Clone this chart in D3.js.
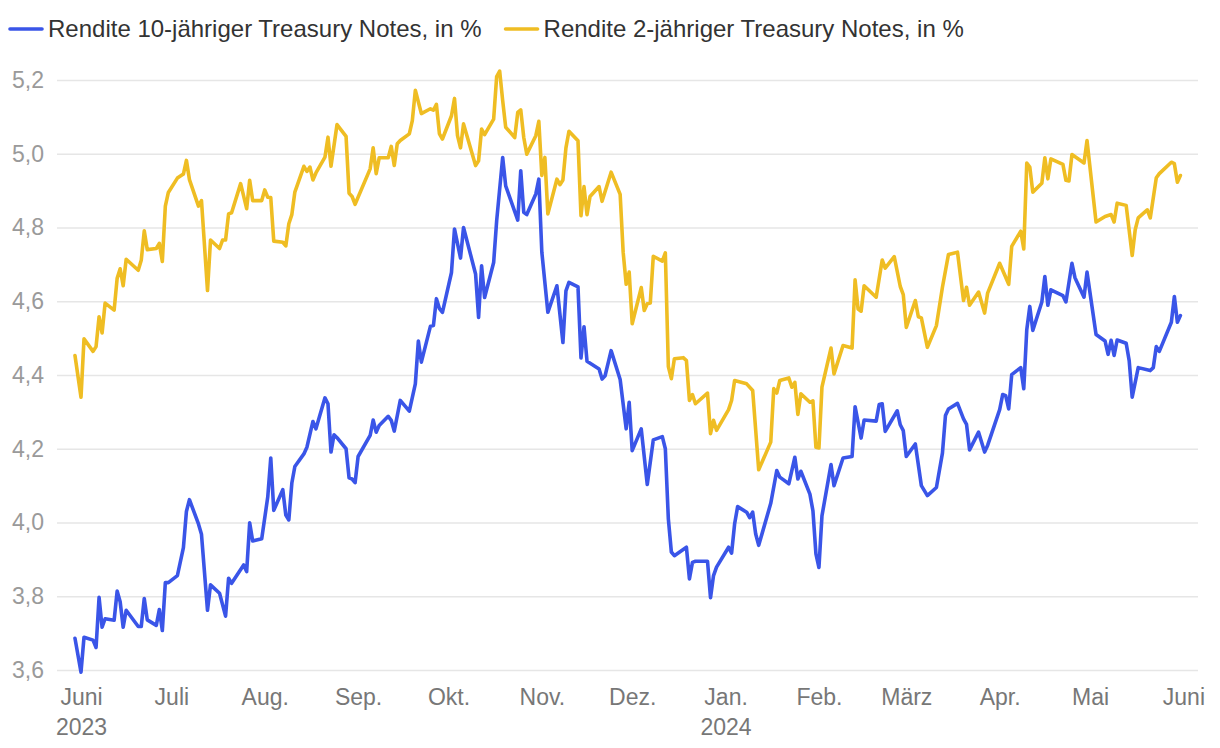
<!DOCTYPE html>
<html>
<head>
<meta charset="utf-8">
<script src="https://cdn.jsdelivr.net/npm/d3@7"></script>
<style>
  html, body { margin: 0; padding: 0; background: #fff; }
  svg { display: block; font-family: "Liberation Sans", Arial, Helvetica, sans-serif; }
</style>
</head>
<body>
<svg id="chart" width="1220" height="748"></svg>
<script>
// ---------- DATA ----------
const seriesNames = ["Rendite 10-jähriger Treasury Notes, in %", "Rendite 2-jähriger Treasury Notes, in %"];
const seriesColors = ["#3a55e8", "#efbd23"];

const dates10 = [
"2023-05-30","2023-06-01","2023-06-02","2023-06-05","2023-06-06","2023-06-07","2023-06-08","2023-06-09",
"2023-06-12","2023-06-13","2023-06-14","2023-06-15","2023-06-16","2023-06-20","2023-06-21","2023-06-22",
"2023-06-23","2023-06-26","2023-06-27","2023-06-28","2023-06-29","2023-06-30","2023-07-03","2023-07-05",
"2023-07-06","2023-07-07","2023-07-10","2023-07-11","2023-07-13","2023-07-14","2023-07-17","2023-07-19",
"2023-07-20","2023-07-21","2023-07-25","2023-07-26","2023-07-27","2023-07-28","2023-07-31","2023-08-02",
"2023-08-03","2023-08-04","2023-08-07","2023-08-08","2023-08-09","2023-08-10","2023-08-11","2023-08-14",
"2023-08-15","2023-08-17","2023-08-18","2023-08-21","2023-08-22","2023-08-23","2023-08-24","2023-08-25",
"2023-08-28","2023-08-29","2023-08-30","2023-08-31","2023-09-01","2023-09-05","2023-09-06","2023-09-07",
"2023-09-08","2023-09-11","2023-09-12","2023-09-13","2023-09-15","2023-09-18","2023-09-20","2023-09-21",
"2023-09-22","2023-09-25","2023-09-26","2023-09-27","2023-09-28","2023-09-29","2023-10-02","2023-10-03",
"2023-10-05","2023-10-06","2023-10-10","2023-10-11","2023-10-12","2023-10-13","2023-10-16","2023-10-17",
"2023-10-19","2023-10-20","2023-10-24","2023-10-25","2023-10-26","2023-10-27","2023-10-30","2023-10-31",
"2023-11-01","2023-11-03","2023-11-06","2023-11-08","2023-11-09","2023-11-10","2023-11-13","2023-11-14",
"2023-11-15","2023-11-16","2023-11-20","2023-11-21","2023-11-22","2023-11-24","2023-11-27","2023-11-29",
"2023-11-30","2023-12-01","2023-12-04","2023-12-06","2023-12-08","2023-12-11","2023-12-12","2023-12-13",
"2023-12-14","2023-12-15","2023-12-19","2023-12-20","2023-12-21","2023-12-22","2023-12-26","2023-12-27",
"2023-12-28","2023-12-29","2024-01-02","2024-01-03","2024-01-04","2024-01-05","2024-01-08","2024-01-09",
"2024-01-10","2024-01-11","2024-01-12","2024-01-16","2024-01-18","2024-01-19","2024-01-22","2024-01-24",
"2024-01-25","2024-01-26","2024-01-29","2024-01-30","2024-01-31","2024-02-01","2024-02-02","2024-02-05",
"2024-02-06","2024-02-09","2024-02-12","2024-02-13","2024-02-15","2024-02-16","2024-02-20","2024-02-21",
"2024-02-22","2024-02-23","2024-02-27","2024-02-28","2024-02-29","2024-03-01","2024-03-04","2024-03-06",
"2024-03-08","2024-03-11","2024-03-13","2024-03-14","2024-03-15","2024-03-18","2024-03-20","2024-03-21",
"2024-03-22","2024-03-25","2024-03-27","2024-03-28","2024-04-01","2024-04-02","2024-04-03","2024-04-04",
"2024-04-05","2024-04-08","2024-04-09","2024-04-10","2024-04-11","2024-04-12","2024-04-15","2024-04-16",
"2024-04-17","2024-04-18","2024-04-22","2024-04-23","2024-04-25","2024-04-26","2024-04-29","2024-04-30",
"2024-05-03","2024-05-06","2024-05-07","2024-05-08","2024-05-09","2024-05-10","2024-05-13","2024-05-14",
"2024-05-15","2024-05-17","2024-05-21","2024-05-22","2024-05-23","2024-05-24","2024-05-28","2024-05-29",
"2024-05-30","2024-05-31"];
const values10 = [
3.686,3.594,3.689,3.681,3.661,3.797,3.716,3.739,
3.735,3.814,3.785,3.716,3.762,3.718,3.718,3.794,
3.736,3.721,3.764,3.707,3.837,3.837,3.856,3.932,
4.030,4.062,3.996,3.968,3.762,3.831,3.808,3.746,
3.849,3.835,3.885,3.867,3.999,3.950,3.956,4.069,
4.175,4.033,4.089,4.020,4.007,4.107,4.152,4.186,
4.204,4.274,4.254,4.338,4.322,4.191,4.238,4.230,
4.200,4.121,4.118,4.108,4.179,4.236,4.278,4.245,
4.263,4.288,4.277,4.248,4.331,4.302,4.376,4.492,
4.435,4.532,4.534,4.607,4.580,4.570,4.678,4.796,
4.717,4.800,4.674,4.556,4.696,4.610,4.705,4.818,
4.990,4.913,4.820,4.954,4.841,4.835,4.891,4.931,
4.733,4.570,4.642,4.488,4.628,4.651,4.639,4.446,
4.531,4.437,4.416,4.389,4.398,4.466,4.388,4.254,
4.326,4.195,4.254,4.103,4.224,4.233,4.200,4.010,
3.920,3.910,3.933,3.847,3.892,3.895,3.895,3.796,
3.856,3.879,3.933,3.917,3.996,4.043,4.028,4.013,
4.028,3.969,3.938,4.052,4.141,4.123,4.105,4.177,
4.118,4.139,4.077,4.032,3.915,3.878,4.018,4.157,
4.100,4.175,4.179,4.314,4.229,4.278,4.275,4.320,
4.322,4.247,4.303,4.265,4.249,4.179,4.213,4.100,
4.073,4.095,4.188,4.290,4.308,4.323,4.281,4.266,
4.197,4.245,4.191,4.209,4.306,4.347,4.344,4.308,
4.401,4.420,4.363,4.523,4.586,4.521,4.598,4.667,
4.589,4.631,4.615,4.598,4.703,4.664,4.611,4.679,
4.510,4.492,4.456,4.494,4.453,4.495,4.486,4.439,
4.340,4.420,4.412,4.420,4.477,4.464,4.543,4.613,
4.543,4.561];

const dates2 = [
"2023-05-30","2023-06-01","2023-06-02","2023-06-05","2023-06-06","2023-06-07","2023-06-08","2023-06-09",
"2023-06-12","2023-06-13","2023-06-14","2023-06-15","2023-06-16","2023-06-20","2023-06-21","2023-06-22",
"2023-06-23","2023-06-26","2023-06-27","2023-06-28","2023-06-29","2023-06-30","2023-07-03","2023-07-05",
"2023-07-06","2023-07-07","2023-07-10","2023-07-11","2023-07-13","2023-07-14","2023-07-17","2023-07-18",
"2023-07-19","2023-07-20","2023-07-21","2023-07-24","2023-07-26","2023-07-27","2023-07-28","2023-07-31",
"2023-08-01","2023-08-02","2023-08-03","2023-08-04","2023-08-07","2023-08-08","2023-08-09","2023-08-10",
"2023-08-11","2023-08-14","2023-08-15","2023-08-16","2023-08-17","2023-08-18","2023-08-21","2023-08-22",
"2023-08-23","2023-08-25","2023-08-28","2023-08-29","2023-08-30","2023-08-31","2023-09-05","2023-09-06",
"2023-09-07","2023-09-08","2023-09-11","2023-09-12","2023-09-13","2023-09-14","2023-09-15","2023-09-18",
"2023-09-19","2023-09-20","2023-09-22","2023-09-25","2023-09-26","2023-09-27","2023-09-28","2023-09-29",
"2023-10-02","2023-10-03","2023-10-04","2023-10-05","2023-10-06","2023-10-10","2023-10-11","2023-10-12",
"2023-10-13","2023-10-16","2023-10-17","2023-10-18","2023-10-19","2023-10-20","2023-10-23","2023-10-24",
"2023-10-25","2023-10-26","2023-10-27","2023-10-30","2023-10-31","2023-11-01","2023-11-02","2023-11-03",
"2023-11-06","2023-11-07","2023-11-08","2023-11-09","2023-11-10","2023-11-13","2023-11-14","2023-11-15",
"2023-11-16","2023-11-17","2023-11-20","2023-11-21","2023-11-24","2023-11-27","2023-11-28","2023-11-29",
"2023-11-30","2023-12-01","2023-12-04","2023-12-05","2023-12-06","2023-12-07","2023-12-08","2023-12-11",
"2023-12-12","2023-12-13","2023-12-14","2023-12-15","2023-12-18","2023-12-19","2023-12-20","2023-12-21",
"2023-12-22","2023-12-26","2023-12-27","2023-12-28","2023-12-29","2024-01-02","2024-01-03","2024-01-04",
"2024-01-08","2024-01-10","2024-01-12","2024-01-16","2024-01-17","2024-01-18","2024-01-19","2024-01-22",
"2024-01-23","2024-01-24","2024-01-25","2024-01-26","2024-01-29","2024-01-30","2024-01-31","2024-02-01",
"2024-02-02","2024-02-05","2024-02-06","2024-02-09","2024-02-12","2024-02-13","2024-02-14","2024-02-15",
"2024-02-16","2024-02-20","2024-02-22","2024-02-23","2024-02-26","2024-02-28","2024-02-29","2024-03-01",
"2024-03-04","2024-03-05","2024-03-06","2024-03-08","2024-03-11","2024-03-13","2024-03-15","2024-03-18",
"2024-03-20","2024-03-21","2024-03-22","2024-03-25","2024-03-27","2024-03-28","2024-04-01","2024-04-04",
"2024-04-05","2024-04-08","2024-04-09","2024-04-10","2024-04-11","2024-04-12","2024-04-15","2024-04-16",
"2024-04-17","2024-04-18","2024-04-22","2024-04-23","2024-04-24","2024-04-25","2024-04-29","2024-04-30",
"2024-05-03","2024-05-06","2024-05-08","2024-05-09","2024-05-10","2024-05-13","2024-05-15","2024-05-16",
"2024-05-17","2024-05-20","2024-05-21","2024-05-23","2024-05-24","2024-05-28","2024-05-29","2024-05-30",
"2024-05-31"];
const values2 = [
4.453,4.340,4.498,4.464,4.477,4.558,4.514,4.595,
4.576,4.662,4.688,4.642,4.714,4.684,4.711,4.791,
4.740,4.743,4.757,4.708,4.858,4.895,4.934,4.945,
4.982,4.930,4.858,4.873,4.629,4.766,4.743,4.766,
4.766,4.837,4.840,4.919,4.851,4.928,4.873,4.873,
4.902,4.882,4.881,4.763,4.760,4.750,4.810,4.835,
4.896,4.966,4.952,4.964,4.929,4.948,4.991,5.045,
4.966,5.079,5.047,4.893,4.884,4.863,4.959,5.016,
4.946,4.989,4.989,5.020,4.968,5.027,5.036,5.054,
5.090,5.172,5.109,5.122,5.118,5.134,5.054,5.040,
5.103,5.150,5.049,5.016,5.081,4.968,4.981,5.067,
5.052,5.094,5.209,5.224,5.144,5.072,5.044,5.112,
5.119,5.044,4.999,5.049,5.088,4.941,4.990,4.837,
4.931,4.916,4.929,5.016,5.061,5.035,4.832,4.911,
4.835,4.884,4.911,4.871,4.950,4.890,4.733,4.646,
4.679,4.539,4.637,4.575,4.593,4.595,4.722,4.709,
4.731,4.423,4.390,4.444,4.447,4.439,4.331,4.347,
4.322,4.351,4.241,4.277,4.250,4.306,4.331,4.385,
4.376,4.358,4.143,4.218,4.363,4.351,4.385,4.392,
4.367,4.380,4.293,4.349,4.326,4.330,4.204,4.202,
4.367,4.473,4.403,4.480,4.473,4.658,4.579,4.573,
4.642,4.611,4.712,4.690,4.721,4.640,4.618,4.529,
4.602,4.558,4.555,4.475,4.534,4.638,4.727,4.733,
4.602,4.638,4.589,4.625,4.568,4.622,4.703,4.646,
4.749,4.790,4.742,4.975,4.964,4.896,4.920,4.989,
4.932,4.986,4.971,4.928,4.926,4.998,4.975,5.036,
4.815,4.830,4.835,4.815,4.866,4.860,4.724,4.794,
4.826,4.848,4.826,4.935,4.946,4.977,4.973,4.923,
4.941];

const yTicks = [3.6, 3.8, 4.0, 4.2, 4.4, 4.6, 4.8, 5.0, 5.2];
const xTickDates = ["2023-06-01","2023-07-01","2023-08-01","2023-09-01","2023-10-01","2023-11-01","2023-12-01",
                    "2024-01-01","2024-02-01","2024-03-01","2024-04-01","2024-05-01","2024-06-01"];
const xTickLabels = ["Juni","Juli","Aug.","Sep.","Okt.","Nov.","Dez.","Jan.","Feb.","März","Apr.","Mai","Juni"];
const xTickYears  = ["2023","","","","","","","2024","","","","",""];

// ---------- CHART ----------
const parse = d3.utcParse("%Y-%m-%d");
const svg = d3.select("#chart");
const gridLeft = 57, gridRight = 1198;
const fontFam = "'Liberation Sans', Arial, Helvetica, sans-serif";

const x = d3.scaleUtc()
  .domain([parse("2023-06-01"), parse("2024-06-01")])
  .range([81, 1183.4]);
const y = d3.scaleLinear().domain([3.6, 5.2]).range([670, 80]);

// Y axis + gridlines
const yAxis = svg.append("g")
  .attr("transform", `translate(${gridLeft},0)`)
  .call(d3.axisLeft(y).tickValues(yTicks).tickSize(-(gridRight - gridLeft)).tickPadding(13)
        .tickFormat(d => d.toFixed(1).replace(".", ",")));
yAxis.select(".domain").remove();
yAxis.selectAll(".tick line").attr("stroke", "#e6e6e6").attr("stroke-width", 1.6);
yAxis.selectAll(".tick text").attr("fill", "#9a9a9a").attr("font-size", 23)
  .attr("font-family", fontFam);

// X axis
const xTickMap = new Map(xTickDates.map((d, i) => [+parse(d), i]));
const xAxis = svg.append("g")
  .attr("transform", "translate(0,670)")
  .call(d3.axisBottom(x).tickValues(xTickDates.map(parse)).tickSize(0).tickPadding(19)
        .tickFormat(d => xTickLabels[xTickMap.get(+d)]));
xAxis.select(".domain").remove();
xAxis.selectAll(".tick text").attr("fill", "#777").attr("font-size", 23)
  .attr("font-family", fontFam)
  .each(function(d) {
    const yr = xTickYears[xTickMap.get(+d)];
    if (yr) {
      d3.select(this).append("tspan").attr("x", 0).attr("dy", "1.3em").text(yr);
    }
  });

// Lines
const line = d3.line().x(d => x(d.date)).y(d => y(d.v));
const series = [
  dates10.map((d, i) => ({date: parse(d), v: values10[i]})),
  dates2.map((d, i) => ({date: parse(d), v: values2[i]}))
];
svg.append("g").selectAll("path").data(series).join("path")
  .attr("d", line)
  .attr("fill", "none")
  .attr("stroke", (d, i) => seriesColors[i])
  .attr("stroke-width", 3.6)
  .attr("stroke-linejoin", "round")
  .attr("stroke-linecap", "round");

// Legend
const legend = svg.append("g");
let lx = 10;
seriesNames.forEach((name, i) => {
  const g = legend.append("g").attr("transform", `translate(${lx},0)`);
  g.append("line").attr("x1", 0).attr("x2", 32).attr("y1", 29).attr("y2", 29)
    .attr("stroke", seriesColors[i]).attr("stroke-width", 3.6).attr("stroke-linecap", "round");
  const t = g.append("text").attr("x", 38).attr("y", 37).attr("font-size", 24)
    .attr("font-family", fontFam).attr("fill", "#333").text(name);
  lx += 38 + t.node().getComputedTextLength() + 24;
});
</script>
</body>
</html>
